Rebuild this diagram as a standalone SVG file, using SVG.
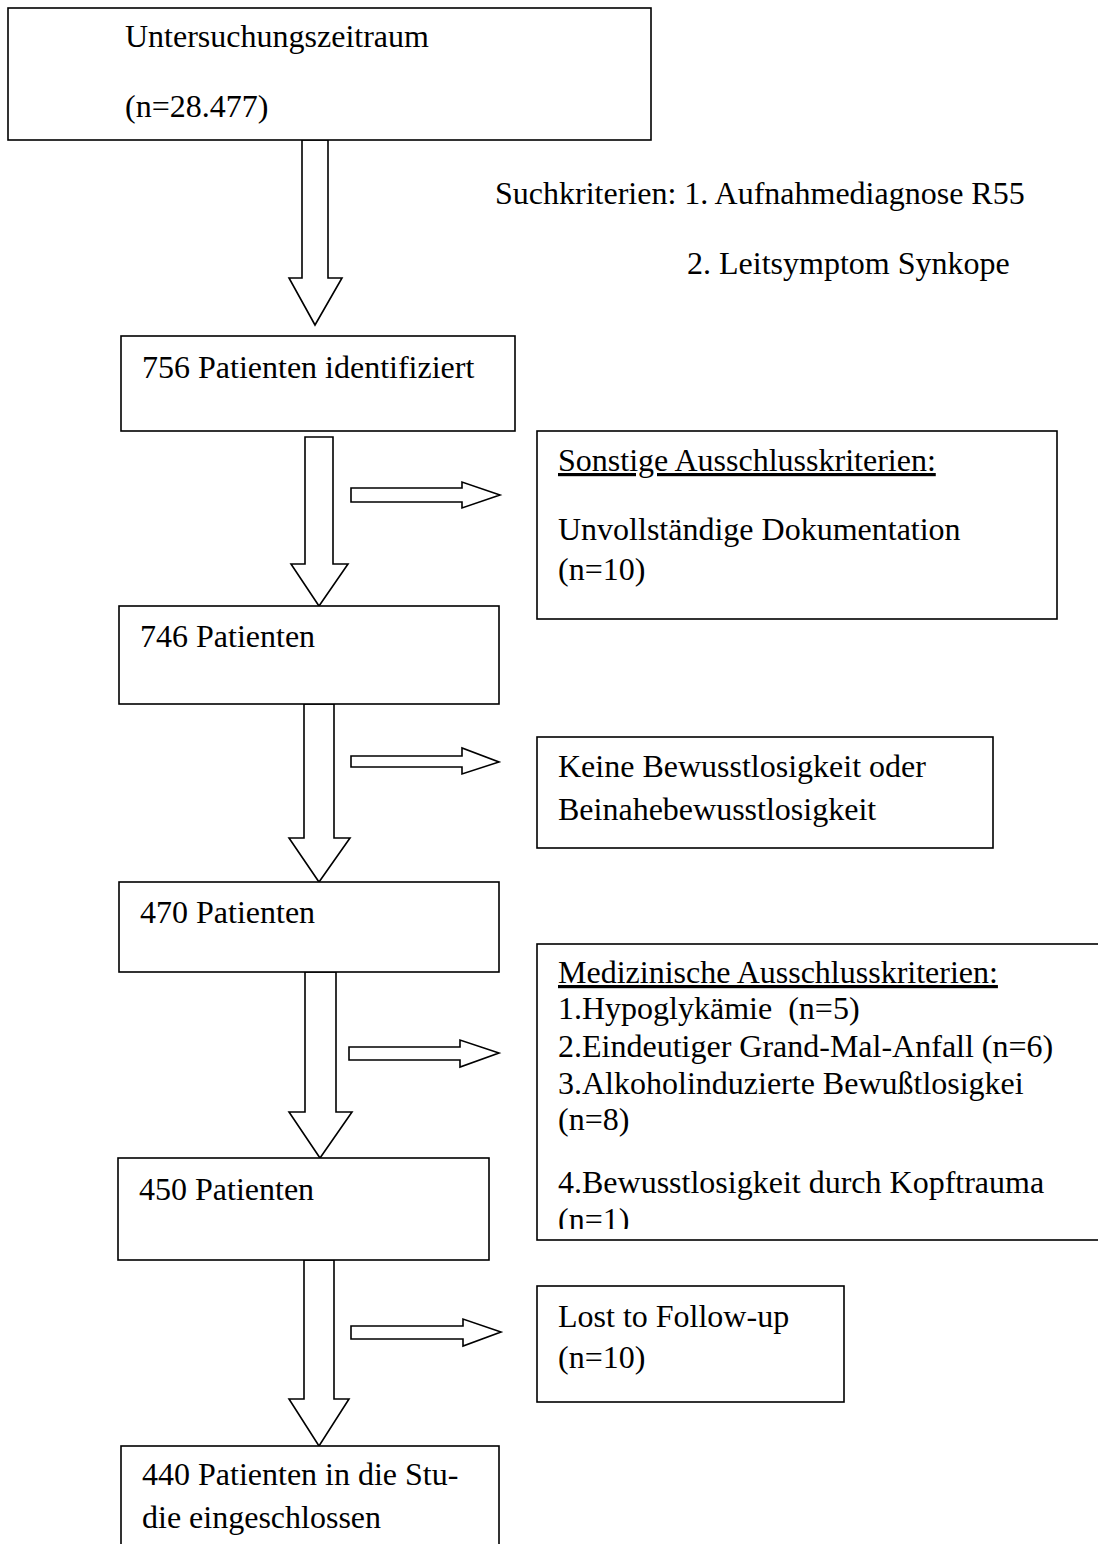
<svg xmlns="http://www.w3.org/2000/svg" width="1098" height="1544" viewBox="0 0 1098 1544">
<style>
.box{fill:#fff;stroke:#000;stroke-width:1.6}
.arr{fill:#fff;stroke:#000;stroke-width:1.6;stroke-linejoin:miter}
text{font-family:"Liberation Serif","Times New Roman",serif;font-size:32px;fill:#000}
.u{text-decoration:underline}
</style>
<defs>
<clipPath id="medclip"><rect x="537" y="944" width="561" height="285"/></clipPath>
</defs>
<rect width="1098" height="1544" fill="#fff"/>
<g id="connectors">
<polygon class="arr" points="302,140 302,278 289,278 315,325 342,278 328,278 328,140"/>
<polygon class="arr" points="305,437 305,564 291,564 319,606 348,564 333,564 333,437"/>
<polygon class="arr" points="304,704 304,838 289,838 319,882 350,838 334,838 334,704"/>
<polygon class="arr" points="305,972 305,1112 289,1112 320,1158 352,1112 336,1112 336,972"/>
<polygon class="arr" points="304,1260 304,1399 289,1399 319,1446 349,1399 334,1399 334,1260"/>
<polygon class="arr" points="351,488 462,488 462,482 500,495 462,508 462,502 351,502"/>
<polygon class="arr" points="351,756 462,756 462,748 499,762 462,774 462,767 351,767"/>
<polygon class="arr" points="349,1047 460,1047 460,1040 499,1053 460,1067 460,1060 349,1060"/>
<polygon class="arr" points="351,1326 463,1326 463,1319 501,1332 463,1346 463,1339 351,1339"/>
</g>
<g id="n-zeitraum">
<rect class="box" x="8" y="8" width="643" height="132"/>
<text x="125" y="47">Untersuchungszeitraum</text>
<text x="125" y="117">(n=28.477)</text>
</g>
<g id="n-such">
<text x="495" y="204">Suchkriterien: 1. Aufnahmediagnose R55</text>
<text x="687" y="274">2. Leitsymptom Synkope</text>
</g>
<g id="n-756">
<rect class="box" x="121" y="336" width="394" height="95"/>
<text x="142" y="378">756 Patienten identifiziert</text>
</g>
<g id="n-sonstige">
<rect class="box" x="537" y="431" width="520" height="188"/>
<text x="558" y="471" class="u">Sonstige Ausschlusskriterien:</text>
<text x="558" y="540">Unvollständige Dokumentation</text>
<text x="558" y="580">(n=10)</text>
</g>
<g id="n-746">
<rect class="box" x="119" y="606" width="380" height="98"/>
<text x="140" y="647">746 Patienten</text>
</g>
<g id="n-keine">
<rect class="box" x="537" y="737" width="456" height="111"/>
<text x="558" y="777">Keine Bewusstlosigkeit oder</text>
<text x="558" y="820">Beinahebewusstlosigkeit</text>
</g>
<g id="n-470">
<rect class="box" x="119" y="882" width="380" height="90"/>
<text x="140" y="923">470 Patienten</text>
</g>
<g id="n-medizinisch">
<rect class="box" x="537" y="944" width="570" height="296"/>
<g clip-path="url(#medclip)">
<text x="558" y="983" class="u">Medizinische Ausschlusskriterien:</text>
<text x="558" y="1019" xml:space="preserve">1.Hypoglykämie  (n=5)</text>
<text x="558" y="1057">2.Eindeutiger Grand-Mal-Anfall (n=6)</text>
<text x="558" y="1094">3.Alkoholinduzierte Bewußtlosigkei</text>
<text x="558" y="1130">(n=8)</text>
<text x="558" y="1193">4.Bewusstlosigkeit durch Kopftrauma</text>
<text x="558" y="1230">(n=1)</text>
</g>
</g>
<g id="n-450">
<rect class="box" x="118" y="1158" width="371" height="102"/>
<text x="139" y="1200">450 Patienten</text>
</g>
<g id="n-lost">
<rect class="box" x="537" y="1286" width="307" height="116"/>
<text x="558" y="1327">Lost to Follow-up</text>
<text x="558" y="1368">(n=10)</text>
</g>
<g id="n-440">
<rect class="box" x="121" y="1446" width="378" height="110"/>
<text x="142" y="1485">440 Patienten in die Stu-</text>
<text x="142" y="1528">die eingeschlossen</text>
</g>
</svg>
